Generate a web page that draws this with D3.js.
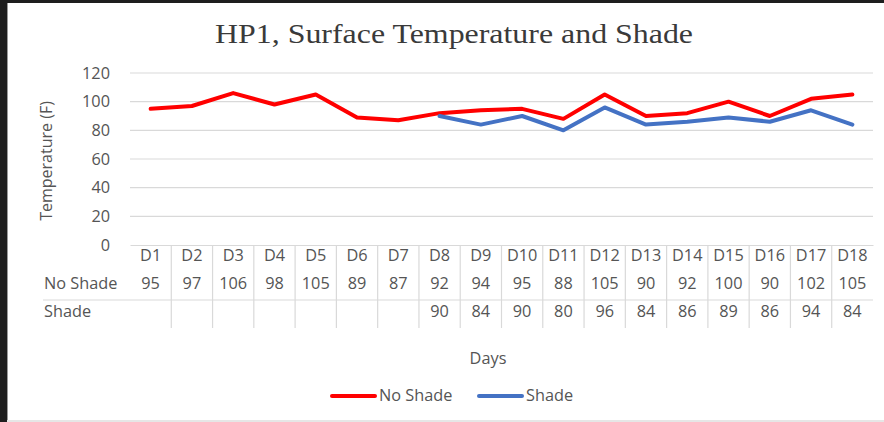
<!DOCTYPE html>
<html><head><meta charset="utf-8">
<script src="https://cdn.jsdelivr.net/npm/d3@7"></script>
<style>
html,body{margin:0;padding:0;background:#fff;}
svg{display:block;}
</style></head>
<body>
<svg id="c" width="884" height="422"></svg>
<script>
const categories = ["D1","D2","D3","D4","D5","D6","D7","D8","D9","D10","D11","D12","D13","D14","D15","D16","D17","D18"];
const noShade = [95,97,106,98,105,89,87,92,94,95,88,105,90,92,100,90,102,105];
const shade = [null,null,null,null,null,null,null,90,84,90,80,96,84,86,89,86,94,84];
const yTicks = [0,20,40,60,80,100,120];
const seriesNames = ["No Shade","Shade"];
const seriesColors = ["#ff0000","#4472c4"];

const svg = d3.select("#c");
const font = "'Open Sans', sans-serif";
const fs = 16.3;
const textColor = "#555555";
const gridColor = "#d9d9d9";

// frame decoration (screenshot borders)
svg.append("rect").attr("x",0).attr("y",0).attr("width",884).attr("height",422).attr("fill","#fff");
svg.append("rect").attr("x",0).attr("y",0).attr("width",884).attr("height",3).attr("fill","#1e1e1e");
svg.append("rect").attr("x",0).attr("y",0).attr("width",7).attr("height",422).attr("fill","#1e1e1e");
svg.append("rect").attr("x",7).attr("y",3).attr("width",1).attr("height",419).attr("fill","#9a9a9a");
svg.append("rect").attr("x",7).attr("y",420).attr("width",877).attr("height",2).attr("fill","#e6e6e6");

const x = d3.scaleBand().domain(categories).range([130, 873]).padding(0);
const y = d3.scaleLinear().domain([0,120]).range([245, 73]);

// title
svg.append("text").attr("x",454).attr("y",43).attr("text-anchor","middle")
  .attr("font-family","'Liberation Serif', 'Times New Roman', serif").attr("font-size",27.5)
  .attr("textLength",478).attr("lengthAdjust","spacingAndGlyphs")
  .attr("fill","#3a3a3a").text("HP1, Surface Temperature and Shade");

// gridlines
svg.append("g").selectAll("line").data(yTicks.filter(d=>d>0)).join("line")
  .attr("x1",130).attr("x2",873).attr("y1",d=>y(d)).attr("y2",d=>y(d))
  .attr("stroke",gridColor).attr("stroke-width",1.2);

// y axis
const yAxis = svg.append("g").attr("transform","translate(130,0)")
  .call(d3.axisLeft(y).tickValues(yTicks).tickSize(0).tickPadding(20));
yAxis.select(".domain").remove();
yAxis.selectAll("text").attr("font-family",font).attr("font-size",fs).attr("fill",textColor);

svg.append("text").attr("transform","translate(52,161) rotate(-90)").attr("text-anchor","middle")
  .attr("font-family",font).attr("font-size",16).attr("fill",textColor).text("Temperature (F)");

// x axis (table header)
const xAxis = svg.append("g").attr("transform","translate(0,245)")
  .call(d3.axisBottom(x).tickSize(0).tickPadding(4));
xAxis.select(".domain").attr("stroke",gridColor).attr("stroke-width",1.2);
xAxis.selectAll("text").attr("font-family",font).attr("font-size",fs).attr("fill",textColor);

// table lines
svg.append("g").selectAll("line").data(categories.slice(1)).join("line")
  .attr("x1",d=>x(d)).attr("x2",d=>x(d)).attr("y1",245).attr("y2",328)
  .attr("stroke",gridColor).attr("stroke-width",1.2);
svg.append("line").attr("x1",43).attr("x2",873).attr("y1",300).attr("y2",300)
  .attr("stroke",gridColor).attr("stroke-width",1.2);

// table rows
const rows = [noShade, shade];
const rowY = [289, 317];
rows.forEach((vals,ri)=>{
  svg.append("text").attr("x",44).attr("y",rowY[ri]).attr("font-family",font).attr("font-size",fs)
    .attr("fill",textColor).text(seriesNames[ri]);
  svg.append("g").selectAll("text").data(categories.map((c,i)=>({c,v:vals[i]})).filter(d=>d.v!=null)).join("text")
    .attr("x",d=>x(d.c)+x.bandwidth()/2).attr("y",rowY[ri]).attr("text-anchor","middle")
    .attr("font-family",font).attr("font-size",fs).attr("fill",textColor).text(d=>d.v);
});

// lines
const line = d3.line().defined(d=>d.v!=null).x(d=>x(d.c)+x.bandwidth()/2).y(d=>y(d.v));
rows.forEach((vals,ri)=>{
  svg.append("path").datum(categories.map((c,i)=>({c,v:vals[i]})))
    .attr("d",line).attr("fill","none").attr("stroke",seriesColors[ri]).attr("stroke-width",4)
    .attr("stroke-linejoin","round").attr("stroke-linecap","round");
});

// x title
svg.append("text").attr("x",488).attr("y",364).attr("text-anchor","middle")
  .attr("font-family",font).attr("font-size",fs).attr("fill",textColor).text("Days");

// legend
const legX = [332, 479];
seriesNames.forEach((n,i)=>{
  svg.append("line").attr("x1",legX[i]).attr("x2",legX[i]+43).attr("y1",396).attr("y2",396)
    .attr("stroke",seriesColors[i]).attr("stroke-width",4).attr("stroke-linecap","round");
  svg.append("text").attr("x",legX[i]+47).attr("y",401).attr("font-family",font).attr("font-size",fs)
    .attr("fill",textColor).text(n);
});
</script>
</body></html>
